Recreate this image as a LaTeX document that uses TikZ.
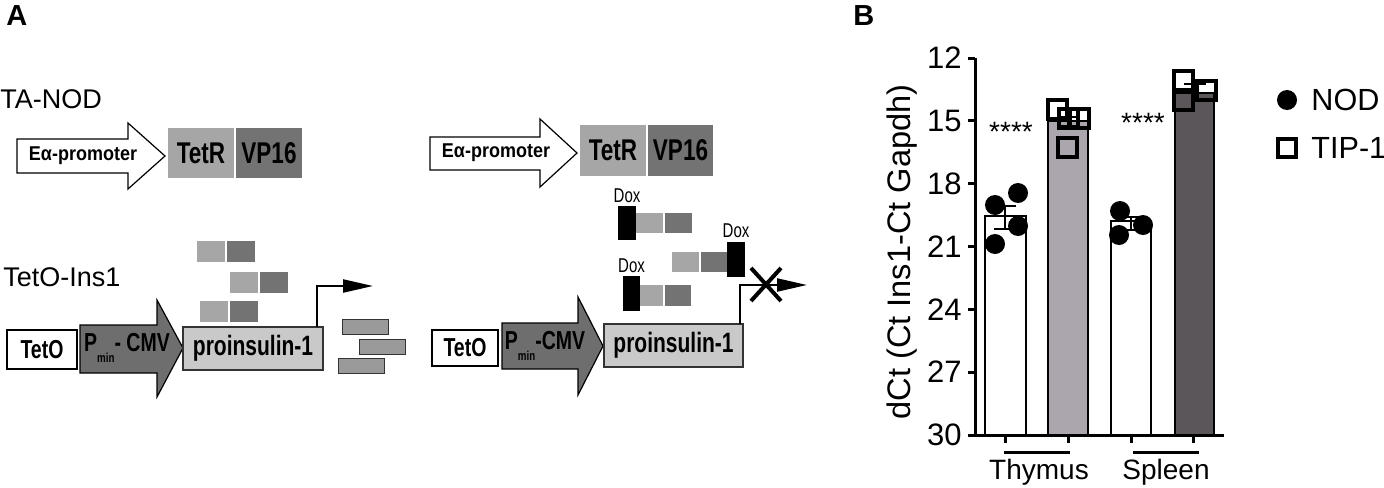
\documentclass[tikz,border=0pt]{standalone}
\usepackage{fontspec}
\setmainfont{Liberation Sans}
\newfontfamily\narrowfont[FakeStretch=0.75]{Liberation Sans}
\newfontfamily\midfont[FakeStretch=0.9]{Liberation Sans}
\newcommand\bnarrow{\narrowfont\bfseries}
\newcommand\lowsub[1]{\raisebox{-0.8ex}{\fontsize{6.5}{7}\selectfont #1}}
\usetikzlibrary{positioning,arrows.meta}
\definecolor{tetrgray}{HTML}{A6A6A6}
\definecolor{vpgray}{HTML}{737373}
\definecolor{cmvgray}{HTML}{6E6E6E}
\definecolor{insgray}{HTML}{C9C9C9}
\definecolor{rnagray}{HTML}{9A9A9A}
\definecolor{thytip}{HTML}{ABA6AE}
\definecolor{spltip}{HTML}{5B5659}
\begin{document}
\begin{tikzpicture}[x=0.5pt,y=-0.5pt,
  declare function={ct(\v)=58+(\v-12)*20.944;},
  box/.style={inner sep=0pt,outer sep=0pt,anchor=north west},
  construct/.style={font=\fontsize{13.5}{16}\selectfont,inner sep=0pt,anchor=north west},
  panellbl/.style={inner sep=0pt,anchor=north west},
  promoter/.style={fill=white,draw=black,line width=0.6pt},
  promtext/.style={font=\midfont\bfseries\fontsize{10}{12}\selectfont,inner sep=0pt},
  cmv/.style={fill=cmvgray,draw=black,line width=0.6pt},
  tetr/.style={box,fill=tetrgray,minimum width=33pt,minimum height=25pt,font=\bnarrow\fontsize{15}{16}\selectfont},
  vp/.style={tetr,fill=vpgray},
  half/.style={box,fill=tetrgray,minimum width=14pt,minimum height=10.5pt},
  halfdark/.style={half,fill=vpgray},
  doxblk/.style={box,fill=black,minimum width=9pt,minimum height=17pt},
  doxtext/.style={font=\narrowfont\fontsize{10}{12}\selectfont,inner sep=0pt},
  teto/.style={box,draw=black,fill=white,line width=0.6pt,font=\bnarrow\fontsize{13}{15}\selectfont},
  ins/.style={box,draw=black!80,fill=insgray,line width=0.6pt,font=\bnarrow\fontsize{14}{16}\selectfont},
  rna/.style={box,draw=black!80,fill=rnagray,line width=0.5pt,minimum width=23pt,minimum height=7.5pt},
  txarrow/.style={line width=1.1pt,-{Triangle[length=15pt,width=6.5pt]}},
  axisline/.style={line width=1.5pt},
  bar/.style={draw=black,line width=1pt},
  tipmark/.style={line width=2pt},
  ticklbl/.style={font=\fontsize{15.5}{17}\selectfont,inner sep=0pt,anchor=east}]
\useasboundingbox (0,0) rectangle (1384,487);

% panel A, left
\node[panellbl] (labA) at (6,5) {\fontsize{14.5}{16}\selectfont\bfseries A};
\node[construct] (taNod) at (0,89) {TA-NOD};
\draw[promoter] (17,139) -- (128,139) -- (128,123) -- (165,156) -- (128,189) -- (128,173) -- (17,173) -- cycle;
\node[promtext] (ea1) at (83,156) {Eα-promoter};
\node[tetr] (tetr1) at (168,128) {TetR};
\node[vp, right=1pt of tetr1] (vp1) {VP16};

\node[half] (ta1) at (197,241) {};
\node[halfdark, right=1pt of ta1] (tb1) {};
\node[half] (ta2) at (230,272) {};
\node[halfdark, right=1pt of ta2] (tb2) {};
\node[half] (ta3) at (200,301) {};
\node[halfdark, right=1pt of ta3] (tb3) {};

\node[construct] (tetoIns) at (3,267) {TetO-Ins1};
\node[teto,minimum width=35pt,minimum height=19.5pt] (teto1) at (7,330) {TetO};
\draw[cmv] (80,325) -- (157,325) -- (157,300) -- (183,348) -- (157,397) -- (157,373) -- (80,373) -- cycle;
\node[font=\bnarrow\fontsize{13}{15}\selectfont,inner sep=0pt] (cmv1) at (127,348) {P\lowsub{min}- CMV};
\node[ins,minimum width=70pt,minimum height=21.5pt] (pro1) at (183,327) {proinsulin-1};
\coordinate (tss1) at (317,327);
\coordinate (tx1) at (373,286);
\draw[txarrow] (tss1) |- (tx1);

\node[rna] (rna1) at (342,319) {};
\node[rna] (rna2) at (359,339) {};
\node[rna] (rna3) at (338,358) {};

% panel A, right (with Dox)
\draw[promoter] (430,137) -- (540,137) -- (540,119) -- (577,153) -- (540,187) -- (540,170) -- (430,170) -- cycle;
\node[promtext] (ea2) at (496,153) {Eα-promoter};
\node[tetr,minimum height=25.5pt] (tetr2) at (580,125) {TetR};
\node[vp,minimum height=25.5pt,minimum width=32.5pt, right=1pt of tetr2] (vp2) {VP16};

\node[doxblk] (blk1) at (618,206) {};
\node[half,minimum height=10pt,minimum width=13.5pt] (da1) at (636,213) {};
\node[halfdark,minimum height=10pt,minimum width=13.5pt] (db1) at (665,213) {};
\node[doxtext, above=1.5pt of blk1] (dox1) {Dox};

\node[half,minimum height=10pt,minimum width=13.5pt] (da2) at (672,252) {};
\node[halfdark,minimum height=10pt,minimum width=13pt] (db2) at (701,252) {};
\node[doxblk,minimum height=17.5pt] (blk2) at (727,242) {};
\node[doxtext, above=2pt of blk2] (dox2) {Dox};

\node[doxblk,minimum width=8.5pt,minimum height=17.5pt] (blk3) at (623,276) {};
\node[half,minimum height=10.5pt,minimum width=11.5pt] (da3) at (640,285) {};
\node[halfdark,minimum height=10.5pt,minimum width=13pt] (db3) at (665,285) {};
\node[doxtext, above=1.5pt of blk3] (dox3) {Dox};

\node[teto,minimum width=33pt,minimum height=18pt] (teto2) at (432,330) {TetO};
\draw[cmv] (502,323) -- (578,323) -- (578,297) -- (603,346) -- (578,395) -- (578,369) -- (502,369) -- cycle;
\node[font=\bnarrow\fontsize{13}{15}\selectfont,inner sep=0pt] (cmv2) at (545,346) {P\lowsub{min}-CMV};
\node[ins,minimum width=69.5pt,minimum height=21.5pt] (pro2) at (604,324) {proinsulin-1};
\coordinate (tss2) at (740,324);
\coordinate (tx2) at (807,285);
\draw[txarrow] (tss2) |- (tx2);
\draw[line width=2pt] (751,268) -- (781,301) (751,301) -- (781,268);

% panel B
\node[panellbl] (labB) at (853,5) {\fontsize{14.5}{16}\selectfont\bfseries B};
\draw[bar,fill=white] (985,{ct(30)}) rectangle (1026,{ct(19.55)});
\draw[bar,fill=thytip] (1048,{ct(30)}) rectangle (1088,{ct(15.0)});
\draw[bar,fill=white] (1111,{ct(30)}) rectangle (1151,{ct(19.8)});
\draw[bar,fill=spltip] (1175,{ct(30)}) rectangle (1214,{ct(13.65)});

\draw[axisline] (975,58) -- (975,435) -- (1224,435);
\foreach \v in {12,15,...,30}{
  \draw[axisline] (968,{ct(\v)}) -- (975,{ct(\v)});
  \node[ticklbl] (tk\v) at (962,{ct(\v)}) {\v};
}
\node[font=\fontsize{16.3}{18}\selectfont,rotate=90,inner sep=0pt] (yLbl) at (902,252) {dCt (Ct Ins1-Ct Gapdh)};

% error bars
\foreach \xc/\lo/\hi in {1005/19.07/20.16,1068/14.8/15.25,1131/19.6/20.2,1195/13.25/13.67}{
  \draw[line width=1pt] (\xc,{ct(\lo)}) -- (\xc,{ct(\hi)});
  \draw[line width=1pt] (\xc-11,{ct(\lo)}) -- (\xc+11,{ct(\lo)}) (\xc-11,{ct(\hi)}) -- (\xc+11,{ct(\hi)});
}

% data points
\foreach \px/\py in {995/205,1018/193,1018/226,995/244,1120/211,1143/225,1119/235}
  \fill (\px,\py) circle[radius=10];
\foreach \px/\py in {1057/109,1068/118,1079/118,1067/147,1183/80,1206/90,1183/100}
  \draw[tipmark] (\px-9.5,\py-9.5) rectangle (\px+9.5,\py+9.5);

\node[font=\fontsize{14}{16}\selectfont,inner sep=0pt] (sigThy) at (1011,132) {****};
\node[font=\fontsize{14}{16}\selectfont,inner sep=0pt] (sigSpl) at (1143,123) {****};

\foreach \x in {1005,1068,1131,1193}
  \draw[axisline] (\x,435) -- (\x,443);
\draw[line width=1.5pt] (1004,452) -- (1070,452);
\draw[line width=1.5pt] (1133,452) -- (1199,452);
\node[font=\fontsize{14}{16}\selectfont,inner sep=0pt,anchor=north] (thyLbl) at (1039,459) {Thymus};
\node[font=\fontsize{14}{16}\selectfont,inner sep=0pt,anchor=north] (splLbl) at (1166,459) {Spleen};

% legend
\fill (1287,100) circle[radius=10];
\node[font=\fontsize{15.3}{17}\selectfont,inner sep=0pt,anchor=west] (nodLbl) at (1311,100) {NOD};
\draw[tipmark] (1278,139) rectangle (1296,157);
\node[font=\fontsize{15.3}{17}\selectfont,inner sep=0pt,anchor=west] (tipLbl) at (1311,148) {TIP-1};
\end{tikzpicture}
\end{document}
